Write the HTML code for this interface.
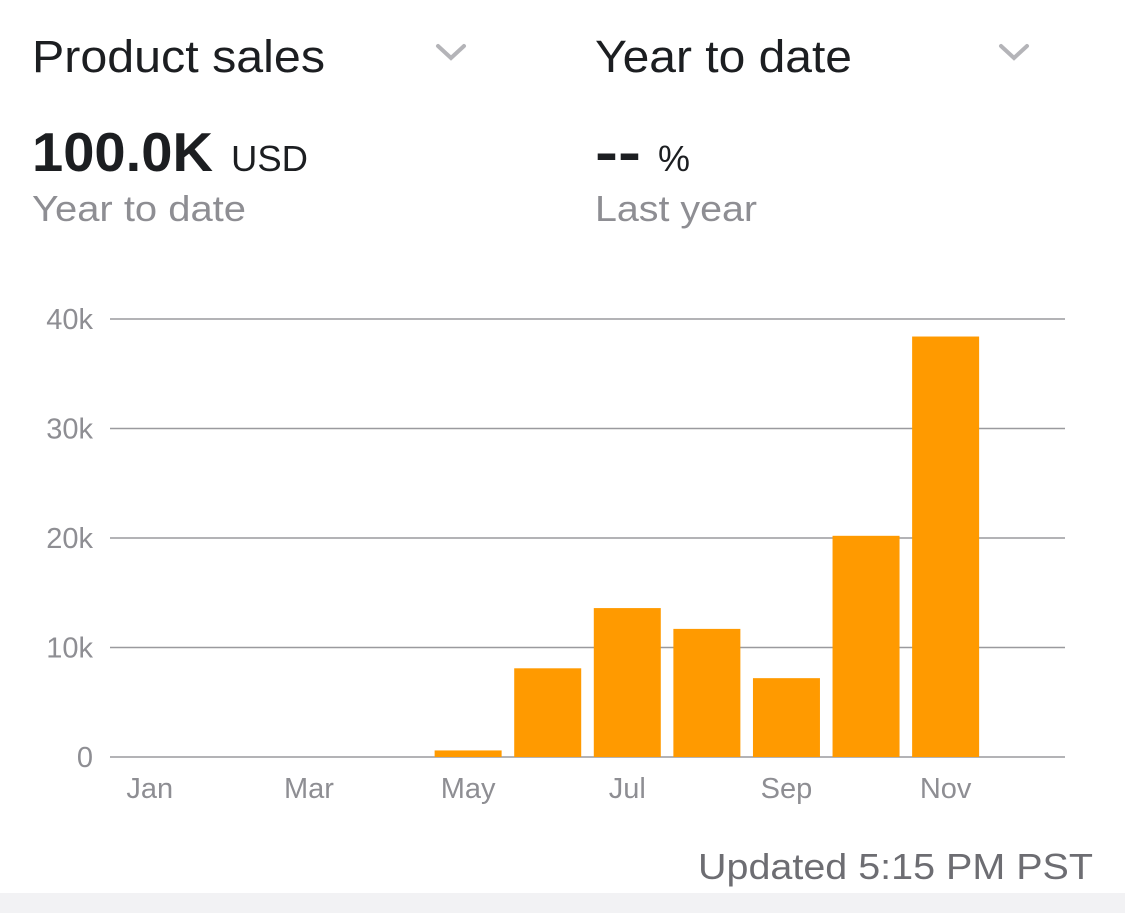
<!DOCTYPE html>
<html><head><meta charset="utf-8"><style>
html,body{margin:0;padding:0;background:#fff;}
svg{display:block;font-family:"Liberation Sans",Arial,sans-serif;}
</style></head><body>
<svg id="c" width="1125" height="913" viewBox="0 0 1125 913">
  <rect x="0" y="0" width="1125" height="913" fill="#ffffff"/>
  <rect x="0" y="893" width="1125" height="20" fill="#f2f2f4"/>
  <g>
    <text x="32" y="72" font-size="45" fill="#1c1e21" textLength="293" lengthAdjust="spacingAndGlyphs">Product sales</text>
    <polyline points="438,46 451,58 464,46" fill="none" stroke="#b4b4b8" stroke-width="4" stroke-linecap="round"/>
  </g>
  <g>
    <text x="595" y="72" font-size="45" fill="#1c1e21" textLength="257" lengthAdjust="spacingAndGlyphs">Year to date</text>
    <polyline points="1001,46 1014,58 1027,46" fill="none" stroke="#b4b4b8" stroke-width="4" stroke-linecap="round"/>
  </g>
  <text x="32" y="171" font-size="55" font-weight="bold" fill="#1c1e21" textLength="181" lengthAdjust="spacingAndGlyphs">100.0K</text>
  <text x="231" y="171" font-size="36" fill="#1c1e21" textLength="77" lengthAdjust="spacingAndGlyphs">USD</text>
  <text x="32" y="221" font-size="36" fill="#8e8e93" textLength="214" lengthAdjust="spacingAndGlyphs">Year to date</text>
  <text x="595" y="171" font-size="55" font-weight="bold" fill="#1c1e21" textLength="46" lengthAdjust="spacingAndGlyphs">--</text>
  <text x="658" y="171" font-size="36" fill="#1c1e21">%</text>
  <text x="595" y="221" font-size="36" fill="#8e8e93" textLength="162" lengthAdjust="spacingAndGlyphs">Last year</text>
  <g id="chart"></g>
  <text x="1093" y="879" font-size="36" fill="#6d6d72" text-anchor="end" textLength="395" lengthAdjust="spacingAndGlyphs">Updated 5:15 PM PST</text>
</svg>
<script>
const months = ["Jan","Feb","Mar","Apr","May","Jun","Jul","Aug","Sep","Oct","Nov","Dec"];
const sales = [0,0,0,0,0.6,8.1,13.6,11.7,7.2,20.2,38.4,0];
const yTicks = [0,10,20,30,40];
const yTickLabels = ["0","10k","20k","30k","40k"];
const xLabelIdx = [0,2,4,6,8,10];

const NS="http://www.w3.org/2000/svg";
const g=document.getElementById("chart");
const x0=110,x1=1065,yBase=757,yTop=319,yMax=40;
const slot=(x1-x0)/months.length, barW=67;
function xC(i){return x0+slot*(i+0.5);}
function yS(v){return yBase-(v/yMax)*(yBase-yTop);}
function mk(t,a){const e=document.createElementNS(NS,t);for(const k in a)e.setAttribute(k,a[k]);g.appendChild(e);return e;}
yTicks.forEach((v,i)=>{
  const l=mk("line",{x1:x0,x2:x1,y1:yS(v),y2:yS(v),stroke:"#9a9a9e","stroke-width":1.5});
  
  
  const t=mk("text",{x:93,y:yS(v)+10,"font-size":29,fill:"#8e8e93","text-anchor":"end"});
  t.textContent=yTickLabels[i];
  
  
});
sales.forEach((v,i)=>{
  if(v<=0)return;
  const r=mk("rect",{x:xC(i)-barW/2,y:yS(v),width:barW,height:yBase-yS(v),fill:"#ff9a00"});
  
  
});
xLabelIdx.forEach(i=>{
  const t=mk("text",{x:xC(i),y:798,"font-size":29,fill:"#8e8e93","text-anchor":"middle"});
  t.textContent=months[i];
  
  
});
</script>
</body></html>
